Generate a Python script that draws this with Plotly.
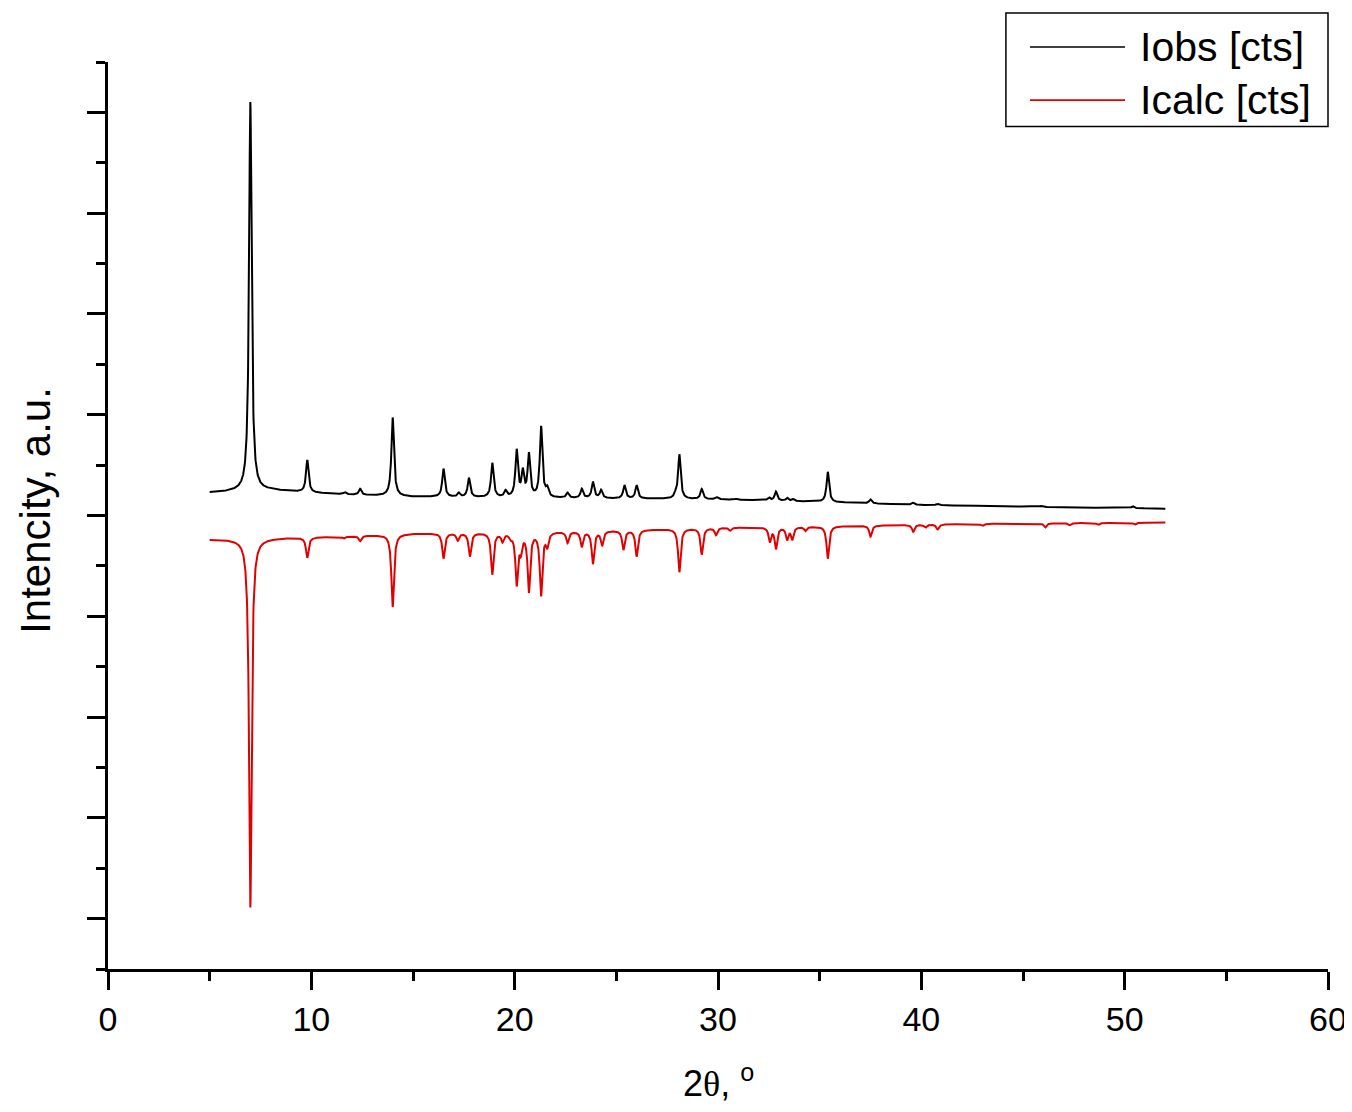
import numpy as np
import plotly.graph_objects as go

# 2theta grid of the scan
two_theta_start = 5.0
two_theta_end = 52.0
step = 0.01

# observed pattern: peak positions (deg) and heights (a.u.)
obs_pos = [7.0, 9.8, 11.65, 12.4, 14.0, 16.5, 17.25, 17.75, 18.9, 19.55,
           20.1, 20.4, 20.7, 21.3, 21.6, 22.6, 23.3, 23.85, 24.25, 25.4,
           26.0, 27.9, 28.1, 29.2, 29.95, 30.9, 32.5, 32.85, 33.4, 33.7,
           35.4, 37.5, 39.6, 40.8, 45.9, 50.4]
obs_height = [3.86, 0.32, 0.02, 0.06, 0.78, 0.28, 0.04, 0.19, 0.34, 0.06,
              0.46, 0.24, 0.42, 0.70, 0.08, 0.05, 0.09, 0.16, 0.08, 0.13,
              0.13, 0.03, 0.44, 0.10, 0.02, 0.01, 0.03, 0.09, 0.03, 0.02,
              0.30, 0.04, 0.02, 0.015, 0.01, 0.02]
# observed background (deg, a.u.)
obs_bg_pos = [5, 8, 10, 12, 15, 20, 27, 30, 35, 40, 45, 52]
obs_bg_val = [0.228, 0.25, 0.225, 0.205, 0.185, 0.175, 0.165, 0.16, 0.135, 0.105, 0.088, 0.068]

# calculated pattern (drawn downward)
calc_pos = [7.0, 9.8, 11.6, 12.4, 14.0, 16.5, 17.2, 17.8, 18.9, 19.4,
            19.8, 20.1, 20.3, 20.7, 21.3, 21.6, 22.6, 23.3, 23.85, 24.3,
            25.35, 26.0, 28.1, 29.2, 29.9, 30.6, 32.55, 32.85, 33.4, 33.65,
            34.3, 35.4, 37.5, 39.6, 40.2, 40.8, 43.0, 46.1, 47.3, 48.7, 50.5]
calc_depth = [3.66, 0.20, 0.02, 0.05, 0.72, 0.25, 0.07, 0.23, 0.41, 0.08,
              0.04, 0.50, 0.16, 0.58, 0.62, 0.13, 0.11, 0.15, 0.32, 0.14,
              0.19, 0.26, 0.43, 0.26, 0.07, 0.03, 0.14, 0.21, 0.12, 0.12,
              0.04, 0.32, 0.11, 0.07, 0.03, 0.05, 0.02, 0.04, 0.02, 0.02, 0.02]
calc_bg_pos = [5, 8, 12, 15, 20, 25, 30, 35, 40, 45, 52]
calc_bg_val = [-0.238, -0.226, -0.205, -0.178, -0.166, -0.148, -0.12, -0.108, -0.09, -0.079, -0.069]

series_names = ["Iobs [cts]", "Icalc [cts]"]
series_colors = ["#000000", "#e00000"]

x_ticks = [0, 10, 20, 30, 40, 50, 60]

fwhm = 0.15


def profile(x, pos, amp):
    hw = fwhm / 2
    y = np.zeros_like(x)
    for p, a in zip(pos, amp):
        y += a / (1 + ((x - p) / hw) ** 2)
    return y


tt = np.arange(two_theta_start, two_theta_end + step / 2, step)
i_obs = np.interp(tt, obs_bg_pos, obs_bg_val) + profile(tt, obs_pos, obs_height)
i_calc = np.interp(tt, calc_bg_pos, calc_bg_val) - profile(tt, calc_pos, calc_depth)

fig = go.Figure()
fig.add_trace(go.Scatter(x=tt, y=i_obs, mode="lines", name=series_names[0],
                         line=dict(color=series_colors[0], width=2)))
fig.add_trace(go.Scatter(x=tt, y=i_calc, mode="lines", name=series_names[1],
                         line=dict(color=series_colors[1], width=2)))

font = "Liberation Sans, Arial, sans-serif"

# page body has an 8px margin on the left/top, so the figure is shifted to fit
fig.update_layout(
    width=1344, height=1096,
    margin=dict(l=100, r=24, t=54, b=135, autoexpand=False),
    paper_bgcolor="white", plot_bgcolor="white",
    showlegend=False,
    font=dict(family=font, color="black"),
)
fig.update_xaxes(
    range=[0, 60], tickvals=x_ticks, ticks="outside", ticklen=18, tickwidth=2.5,
    tickcolor="black", showline=True, linecolor="black", linewidth=2.5,
    showgrid=False, zeroline=False, tickfont=dict(size=34),
    ticklabeloverflow="allow", automargin=False,
    minor=dict(dtick=5, ticks="outside", ticklen=9, tickwidth=2.5, tickcolor="black", showgrid=False),
)
fig.update_yaxes(
    range=[-4.5, 4.5], tick0=0, dtick=1, ticks="outside", ticklen=18, tickwidth=2.5,
    tickcolor="black", showline=True, linecolor="black", linewidth=2.5,
    showgrid=False, zeroline=False, showticklabels=False, automargin=False,
    minor=dict(tick0=0.5, dtick=1, ticks="outside", ticklen=9, tickwidth=2.5, tickcolor="black", showgrid=False),
)

# axis titles
fig.add_annotation(text="Intencity, a.u.", xref="paper", yref="paper", x=-0.06, y=0.506,
                   xanchor="center", yanchor="middle",
                   textangle=-90, showarrow=False, font=dict(size=42))
fig.add_annotation(text='2<span style="font-family:Liberation Serif">θ</span>, <sup>o</sup>',
                   xref="paper", yref="paper", x=0.5, y=-0.1235,
                   xanchor="center", yanchor="middle", borderpad=0,
                   showarrow=False, font=dict(size=36))

# legend box drawn by hand so the sample lines are long
fig.add_shape(type="rect", xref="paper", yref="paper", x0=0.736, x1=1.0, y0=0.929, y1=1.054,
              line=dict(color="black", width=1.5), fillcolor="white")
for name, color, yy in zip(series_names, series_colors, [1.0166, 0.958]):
    fig.add_shape(type="line", xref="paper", yref="paper", x0=0.7557, x1=0.8336, y0=yy, y1=yy,
                  line=dict(color=color, width=1.6))
    fig.add_annotation(text=name, xref="paper", yref="paper", x=0.8443, y=yy, xanchor="left",
                       yanchor="middle", showarrow=False, font=dict(size=41))

fig.write_html("out.html")
